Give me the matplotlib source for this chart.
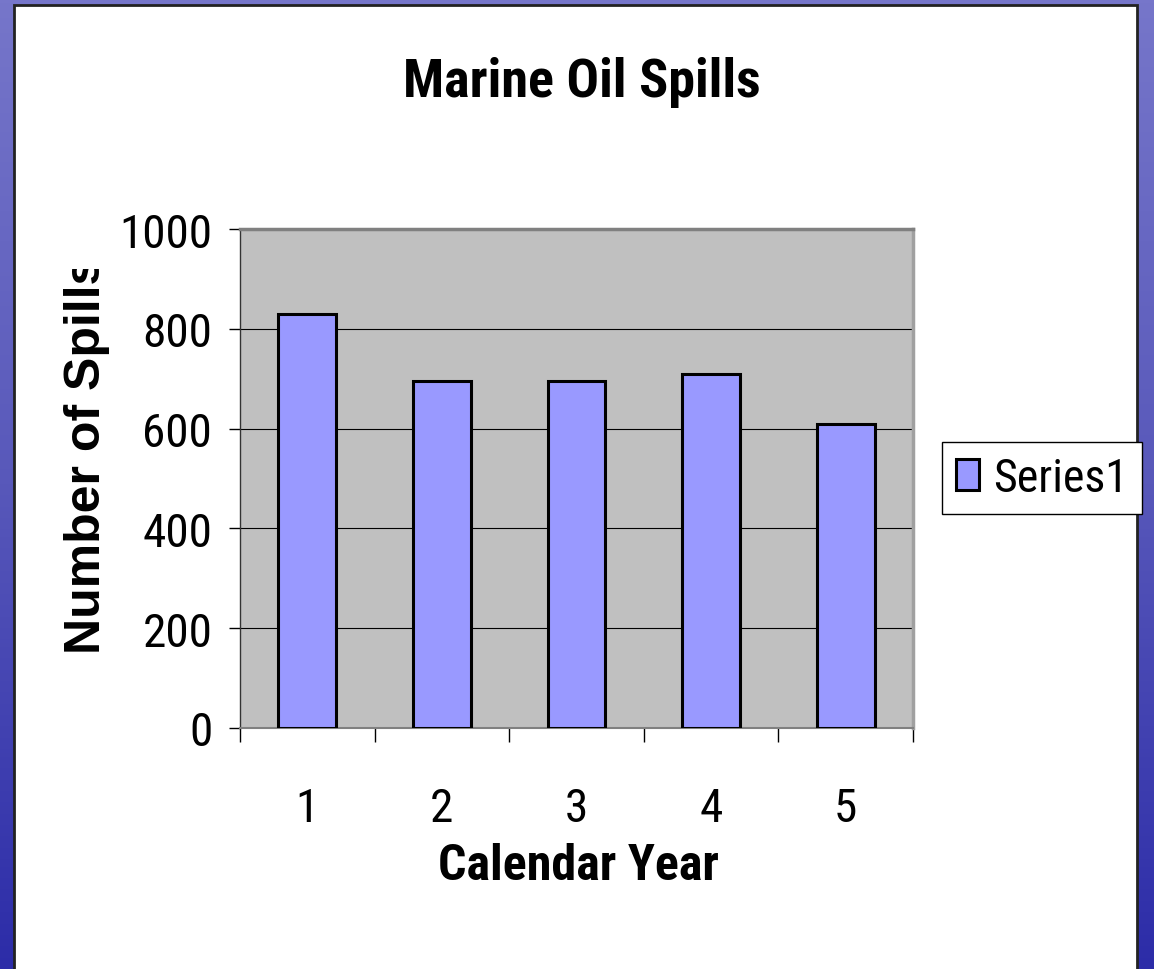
import numpy as np
import matplotlib.pyplot as plt
from matplotlib.patches import Rectangle
from matplotlib.transforms import Bbox
from matplotlib.colors import LinearSegmentedColormap

years = ['1', '2', '3', '4', '5']
spills = [830, 695, 695, 710, 610]
yticks = [0, 200, 400, 600, 800, 1000]

W, H = 1154, 970
narrow = 'Roboto Condensed'

fig = plt.figure(figsize=(W / 100, H / 100), dpi=100)

# slide background + white chart panel
bg = fig.add_axes([0, 0, 1, 1], zorder=-10)
slide = LinearSegmentedColormap.from_list('slide', ['#7676ca', '#5858ba', '#2c2ca8'])
bg.imshow(np.linspace(0, 1, 256).reshape(-1, 1), aspect='auto', cmap=slide,
          extent=[0, 1, 0, 1])
bg.add_patch(Rectangle((14 / W, -0.01), (1137 - 14) / W, 1.01 - 6 / H,
                       transform=bg.transAxes, facecolor='white',
                       edgecolor='#222222', lw=2, clip_on=False))
bg.axis('off')

# plot area
ax = fig.add_axes([240 / W, (H - 729) / H, 673 / W, 499 / H])
ax.set_facecolor('#c0c0c0')
x = np.arange(len(years))
bars = ax.bar(x, spills, width=0.43, color='#9999ff', edgecolor='black',
              linewidth=2.2, zorder=3, label='Series1')
ax.set_xlim(-0.5, len(years) - 0.5)
ax.set_ylim(0, 1000)
ax.set_yticks(yticks)
ax.yaxis.grid(True, color='black', lw=0.8)
ax.set_axisbelow(True)

ax.set_xticks(np.arange(-0.5, len(years), 1))
ax.set_xticklabels([])
ax.set_xticks(x, minor=True)
ax.set_xticklabels(years, minor=True)
ax.tick_params(axis='x', which='major', length=10, width=1, color='black')
ax.tick_params(axis='x', which='minor', length=0, pad=42, labelsize=34)
ax.tick_params(axis='y', length=8, width=1, color='black', pad=12, labelsize=34)
for lbl in ax.get_xticklabels(minor=True) + ax.get_yticklabels():
    lbl.set_family(narrow)

ax.spines['left'].set_color('#333333')
ax.spines['left'].set_linewidth(1)
ax.spines['bottom'].set_color('#808080')
ax.spines['bottom'].set_linewidth(1.5)
ax.spines['top'].set_color('#808080')
ax.spines['top'].set_linewidth(2.5)
ax.spines['right'].set_color('#a0a0a0')
ax.spines['right'].set_linewidth(2.5)

# texts
fig.text(582 / W, 1 - 97 / H, 'Marine Oil Spills', ha='center', va='baseline',
         fontsize=39, weight='bold', family=narrow)
fig.text(578 / W, 1 - 880 / H, 'Calendar Year', ha='center', va='baseline',
         fontsize=36, weight='bold', family=narrow)
yl = fig.text(87 / W, 1 - 455 / H, 'Number of Spills', rotation=90,
              ha='center', va='center', fontsize=36, weight='bold',
              family='Liberation Sans')
yl.set_clip_box(Bbox.from_extents(0, 0, W, H - 270))
yl.set_clip_on(True)

fig.legend(handles=[bars], labels=['Series1'], loc='center',
           bbox_to_anchor=((947 + 1137) / 2 / W, 1 - 479 / H),
           fancybox=False, edgecolor='black', framealpha=1,
           prop={'family': narrow, 'size': 33},
           handlelength=0.5, handleheight=0.66, handletextpad=0.3,
           borderpad=0.3, borderaxespad=0)
fig.legends[0].get_frame().set_linewidth(1)

fig.savefig('out.png', dpi=100)
